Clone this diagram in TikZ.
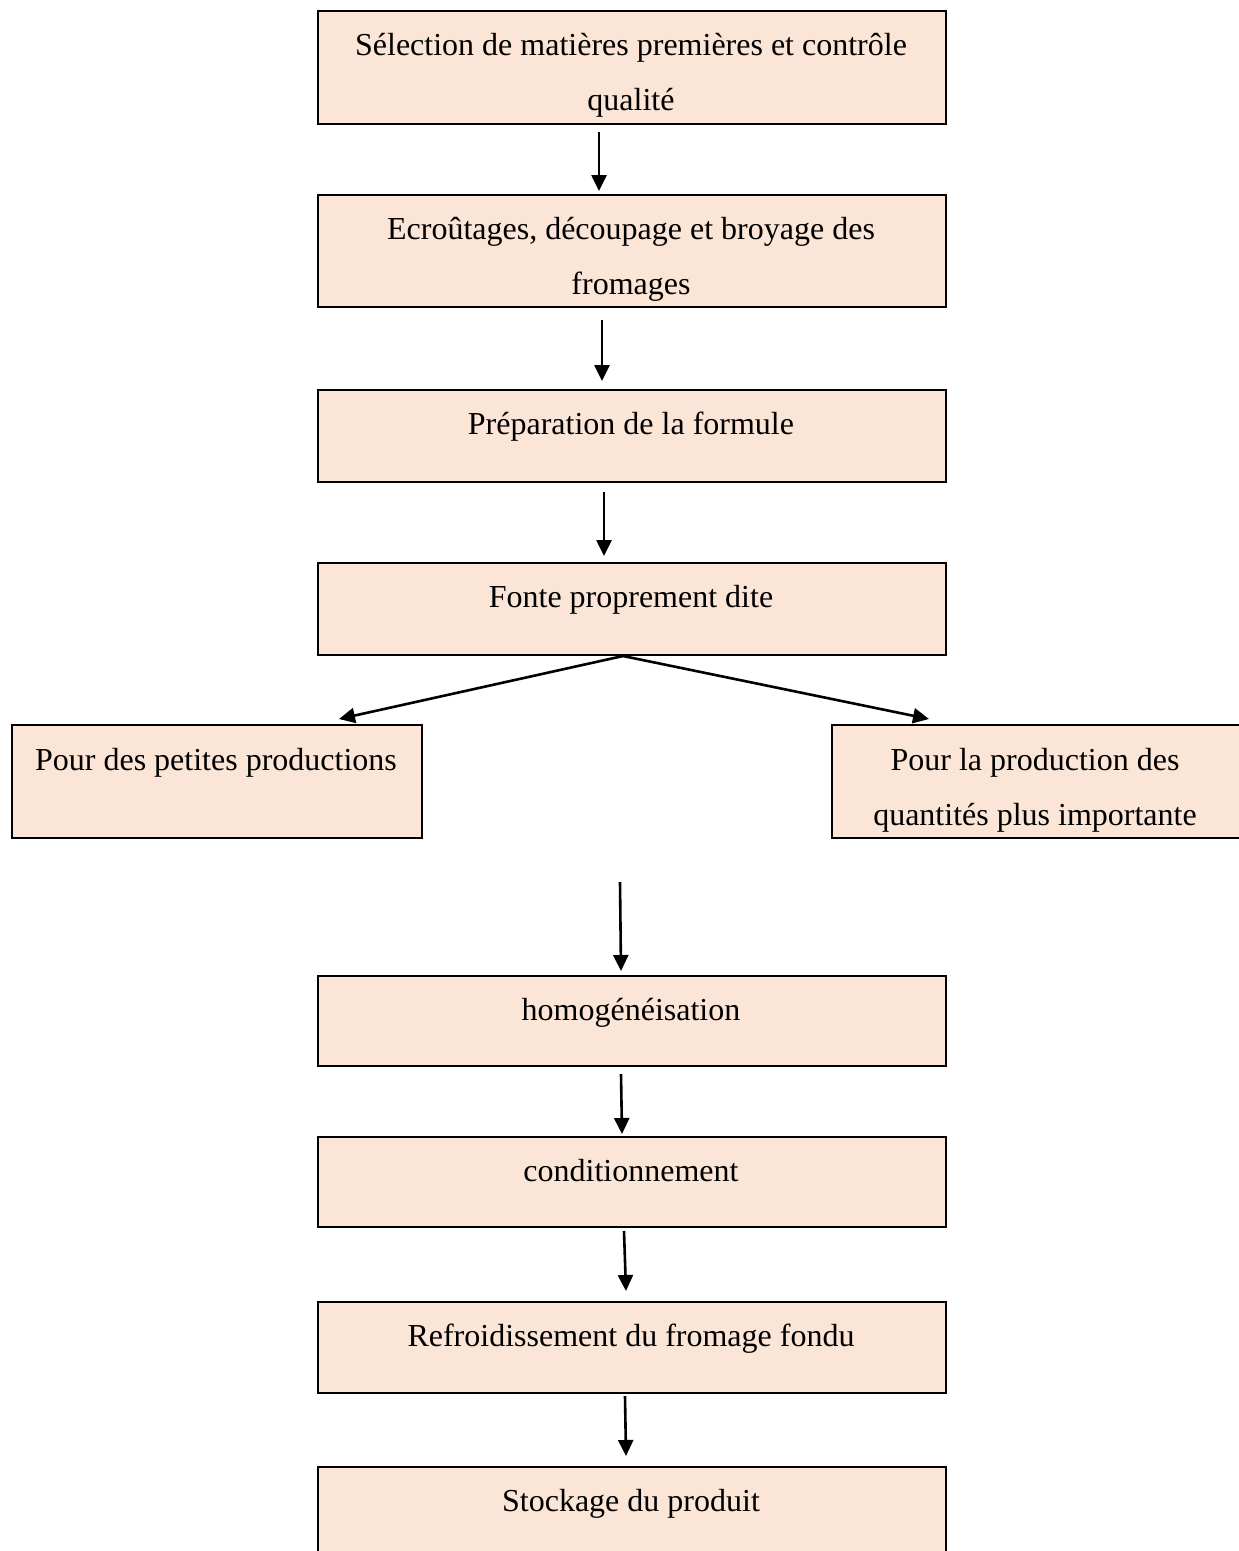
\documentclass[tikz,border=0pt]{standalone}
\usepackage{fontspec}
\setmainfont{Liberation Serif}
\usetikzlibrary{arrows.meta}
\definecolor{boxfill}{HTML}{FBE5D6}
\begin{document}
\begin{tikzpicture}[x=1pt,y=-1pt,
  stepbox/.style={draw=black,line width=2pt,fill=boxfill,inner sep=0pt,anchor=north west,rectangle},
  txt/.style={font=\fontsize{32}{55}\selectfont,align=center,anchor=base,inner sep=0pt},
  arr/.style={line width=2.6pt,-{Triangle[length=16pt,width=15pt]}}]
\clip (0,0) rectangle (1239,1551);
\fill[white] (0,0) rectangle (1239,1551);
% boxes
\node[stepbox,minimum width=628pt,minimum height=113pt] (b1) at (317,10) {};
\node[stepbox,minimum width=628pt,minimum height=112pt] (b2) at (317,194) {};
\node[stepbox,minimum width=628pt,minimum height=92pt] (b3) at (317,389) {};
\node[stepbox,minimum width=628pt,minimum height=92pt] (b4) at (317,562) {};
\node[stepbox,minimum width=410pt,minimum height=113pt] (bl) at (11,724) {};
\node[stepbox,minimum width=420pt,minimum height=113pt] (br) at (831,724) {};
\node[stepbox,minimum width=628pt,minimum height=90pt] (b5) at (317,975) {};
\node[stepbox,minimum width=628pt,minimum height=90pt] (b6) at (317,1136) {};
\node[stepbox,minimum width=628pt,minimum height=91pt] (b7) at (317,1301) {};
\node[stepbox,minimum width=628pt,minimum height=100pt] (b8) at (317,1466) {};
% texts (base anchor = last line's baseline)
\node[txt] (t1) at (631,110) {Sélection de matières premières et contrôle\\qualité};
\node[txt] (t2) at (631,294) {Ecroûtages, découpage et broyage des\\fromages};
\node[txt] (t3) at (631,434) {Préparation de la formule};
\node[txt] (t4) at (631,607) {Fonte proprement dite};
\node[txt] (tl) at (216,770) {Pour des petites productions};
\node[txt] (tr) at (1035,825) {Pour la production des\\quantités plus importante};
\node[txt] (t5) at (631,1020) {homogénéisation};
\node[txt] (t6) at (631,1181) {conditionnement};
\node[txt] (t7) at (631,1346) {Refroidissement du fromage fondu};
\node[txt] (t8) at (631,1511) {Stockage du produit};
% connectors
\draw[arr] ([xshift=-33pt,yshift=-7pt]b1.south) -- ([xshift=-33pt,yshift=3pt]b2.north);
\draw[arr] ([xshift=-30pt,yshift=-12pt]b2.south) -- ([xshift=-30pt,yshift=8pt]b3.north);
\draw[arr] ([xshift=-28pt,yshift=-9pt]b3.south) -- ([xshift=-28pt,yshift=6pt]b4.north);
\draw[arr] ([xshift=-9pt]b4.south) -- ([xshift=122pt,yshift=5pt]bl.north);
\draw[arr] ([xshift=-9pt]b4.south) -- ([xshift=-113pt,yshift=5pt]br.north);
\coordinate (g) at (620,882);
\draw[arr] (g) -- ([xshift=-11pt,yshift=4pt]b5.north);
\draw[arr] ([xshift=-11pt,yshift=-7pt]b5.south) -- ([xshift=-10pt,yshift=2pt]b6.north);
\draw[arr] ([xshift=-8pt,yshift=-3pt]b6.south) -- ([xshift=-6pt,yshift=10pt]b7.north);
\draw[arr] ([xshift=-7pt,yshift=-2pt]b7.south) -- ([xshift=-6pt,yshift=10pt]b8.north);
\end{tikzpicture}
\end{document}
